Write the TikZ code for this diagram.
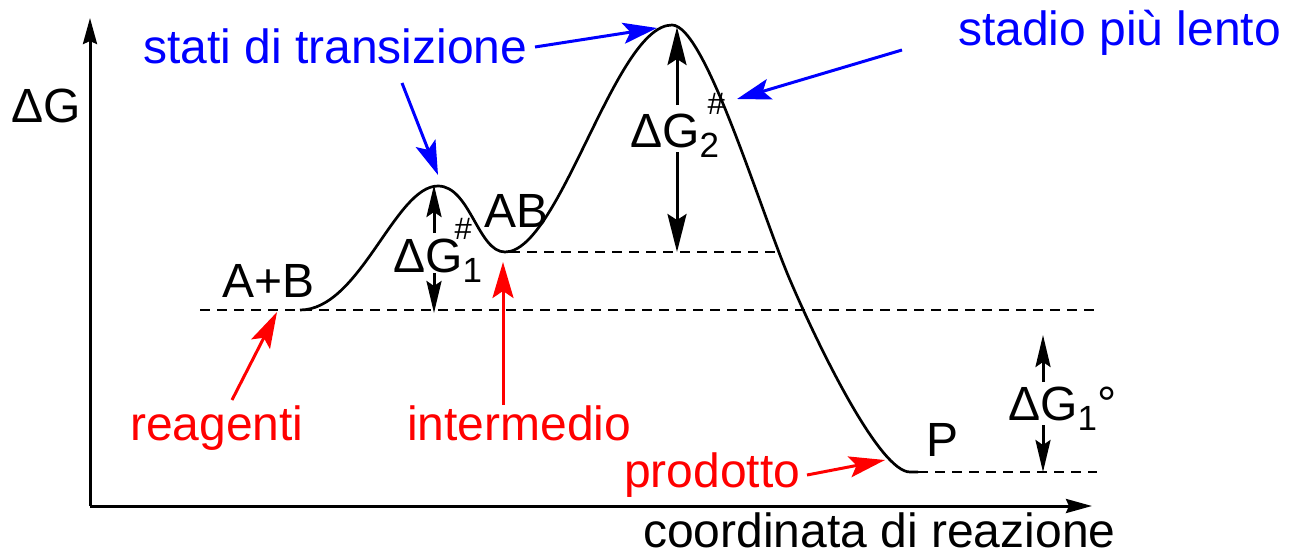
\documentclass[tikz,border=0pt]{standalone}
\usepackage{fontspec}
\setmainfont{Liberation Sans}
\usetikzlibrary{arrows.meta}
\newcommand\subsup[3]{\makebox[0pt][l]{\hspace*{#3}\raisebox{0.68em}{\fontsize{31}{31}\selectfont #2}}\raisebox{-0.21em}{\fontsize{35}{35}\selectfont #1}}
\begin{document}
\begin{tikzpicture}[x=1pt,y=-1pt,
  lbl/.style={font=\fontsize{48}{56}\selectfont, inner sep=0pt, anchor=base west},
  axis/.style={line width=3pt, -{Stealth[length=26pt,width=14pt,inset=3pt]}},
  curve/.style={line width=2.7pt},
  dashln/.style={line width=2pt, dash pattern=on 10pt off 7pt},
  blk/.style={line width=3pt, -{Stealth[length=32pt,width=15pt,inset=5pt]}},
  blkbig/.style={line width=3pt, -{Stealth[length=38pt,width=19pt,inset=6pt]}},
  bluearr/.style={blue, line width=3pt, -{Stealth[length=34pt,width=21pt,inset=7pt]}},
  redarr/.style={red, line width=3pt, -{Stealth[length=36pt,width=21pt,inset=7pt]}}]
\useasboundingbox (0,0) rectangle (1294,555);
% axes
\coordinate (O) at (90,506);
\coordinate (ytop) at (90,18);
\coordinate (xend) at (1092,506);
\draw[axis] (O) -- (ytop);
\draw[axis] (O) -- (xend);
\node[lbl] (dG) at (11,122) {ΔG};
\node[lbl] (coord) at (643,547) {coordinata di reazione};
% dashed levels
\coordinate (l0a) at (200,310); \coordinate (l0b) at (1097,310);
\coordinate (l1a) at (510,252); \coordinate (l1b) at (779,252);
\coordinate (l2a) at (918,472); \coordinate (l2b) at (1097,472);
\draw[dashln] (l0a) -- (l0b);
\draw[dashln] (l1a) -- (l1b);
\draw[dashln] (l2a) -- (l2b);
% curve
\coordinate (s) at (300,310);
\coordinate (pk1) at (438,186);
\coordinate (mn) at (505,252);
\coordinate (pk2) at (672,25);
\coordinate (md) at (790,280);
\coordinate (pe) at (910,472);
\coordinate (pf) at (918,472);
\draw[curve] (s) .. controls (360,310) and (395,186) .. (pk1)
  .. controls (470,186) and (478,252) .. (mn)
  .. controls (560,252) and (615,25) .. (pk2)
  .. controls (705,25) and (760,210) .. (md)
  .. controls (820,350) and (880,472) .. (pe) -- (pf);
% labels
\node[lbl] (AplusB) at (222,297) {A+B};
\node[lbl] (AB) at (484,227) {AB};
\node[lbl] (P) at (926,456) {P};
\node[lbl] (dg1) at (393,272) {ΔG\subsup{1}{\#}{-8pt}};
\node[lbl] (dg2) at (630,147) {ΔG\subsup{2}{\#}{8pt}};
\node[lbl] (dg0) at (1008,420) {ΔG\raisebox{-0.21em}{\fontsize{35}{35}\selectfont 1}°};
% Delta G arrows
\coordinate (a1u) at (434,233); \coordinate (a1t) at (434,185);
\coordinate (a1d) at (434,273); \coordinate (a1b) at (434,313);
\draw[blk] (a1u) -- (a1t);
\draw[blk] (a1d) -- (a1b);
\coordinate (a2u) at (677,105); \coordinate (a2t) at (677,27);
\coordinate (a2d) at (677,152); \coordinate (a2b) at (677,252);
\draw[blkbig] (a2u) -- (a2t);
\draw[blkbig] (a2d) -- (a2b);
\coordinate (a0u) at (1043,382); \coordinate (a0t) at (1043,335);
\coordinate (a0d) at (1043,425); \coordinate (a0b) at (1043,472);
\draw[blk] (a0u) -- (a0t);
\draw[blk] (a0d) -- (a0b);
% blue labels and arrows
\node[lbl,blue] (stati) at (143,63) {stati di transizione};
\node[lbl,blue] (lento) at (958,45) {stadio più lento};
\coordinate (b1s) at (402,83); \coordinate (b1t) at (438,175);
\coordinate (b2s) at (535,47); \coordinate (b2t) at (657,28);
\coordinate (b3s) at (902,50); \coordinate (b3t) at (737,99);
\draw[bluearr] (b1s) -- (b1t);
\draw[bluearr] (b2s) -- (b2t);
\draw[bluearr] (b3s) -- (b3t);
% red labels and arrows
\node[lbl,red] (reag) at (130,440) {reagenti};
\node[lbl,red] (inter) at (407,440) {intermedio};
\node[lbl,red] (prod) at (624,487) {prodotto};
\coordinate (r1s) at (232,400); \coordinate (r1t) at (277,312);
\coordinate (r2s) at (503,405); \coordinate (r2t) at (503,262);
\coordinate (r3s) at (807,475); \coordinate (r3t) at (885,460);
\draw[redarr] (r1s) -- (r1t);
\draw[redarr] (r2s) -- (r2t);
\draw[redarr] (r3s) -- (r3t);
\end{tikzpicture}
\end{document}
